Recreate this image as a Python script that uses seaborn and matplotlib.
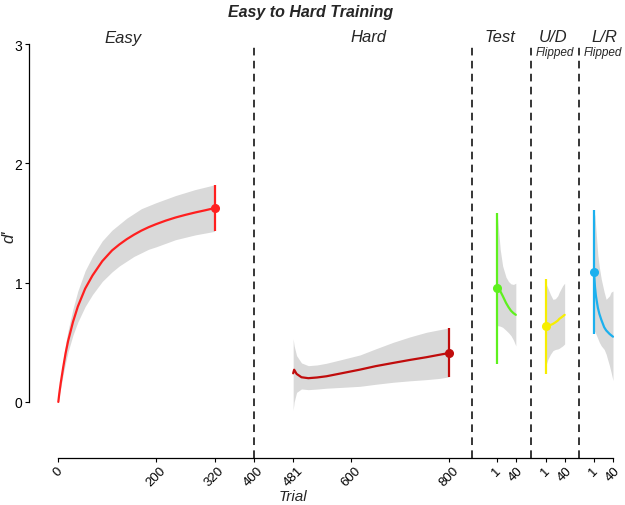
import numpy as np
import pandas as pd
import seaborn as sns
import matplotlib.pyplot as plt

# ---- data ----
# Easy training (trial, d', lower, upper)
easy_trial = [0, 2, 5, 10, 15, 20, 30, 40, 55, 70, 90, 110, 125, 140, 155, 170, 185, 200,
              220, 240, 260, 280, 300, 320]
easy_d = [0.0, 0.07, 0.16, 0.29, 0.41, 0.51, 0.67, 0.80, 0.95, 1.06, 1.18, 1.27, 1.32, 1.364,
          1.402, 1.436, 1.465, 1.49, 1.52, 1.546, 1.568, 1.588, 1.606, 1.625]
easy_lo = [0.0, 0.05, 0.12, 0.23, 0.33, 0.42, 0.56, 0.67, 0.80, 0.90, 1.01, 1.09, 1.14, 1.18,
           1.22, 1.25, 1.28, 1.30, 1.33, 1.36, 1.38, 1.40, 1.415, 1.43]
easy_hi = [0.0, 0.09, 0.20, 0.35, 0.49, 0.60, 0.78, 0.93, 1.10, 1.22, 1.35, 1.44, 1.49, 1.54,
           1.58, 1.62, 1.645, 1.67, 1.70, 1.73, 1.755, 1.78, 1.80, 1.82]

# Hard training
hard_trial = [481, 483, 488, 498, 512, 530, 549, 580, 618, 650, 686, 720, 754, 780, 800]
hard_d = [0.24, 0.27, 0.235, 0.207, 0.199, 0.205, 0.215, 0.24, 0.271, 0.30, 0.327, 0.352,
          0.375, 0.395, 0.41]
hard_lo = [-0.07, 0.0, 0.08, 0.109, 0.103, 0.108, 0.115, 0.122, 0.131, 0.148, 0.165, 0.177,
           0.187, 0.197, 0.21]
hard_hi = [0.53, 0.47, 0.388, 0.327, 0.304, 0.31, 0.324, 0.355, 0.394, 0.445, 0.50, 0.545,
           0.584, 0.605, 0.62]

# Test
test_trial = [1, 3, 8, 13, 20, 25, 30, 35, 40]
test_d = [0.953, 0.96, 0.93, 0.89, 0.83, 0.795, 0.765, 0.745, 0.73]
test_lo = [0.62, 0.64, 0.635, 0.626, 0.60, 0.58, 0.556, 0.52, 0.47]
test_hi = [1.58, 1.53, 1.28, 1.14, 1.045, 1.01, 0.99, 0.985, 0.995]

# U/D flipped
ud_trial = [1, 6, 11, 16, 21, 26, 29, 36, 40]
ud_d = [0.634, 0.636, 0.645, 0.654, 0.667, 0.682, 0.696, 0.717, 0.73]
ud_lo = [0.30, 0.36, 0.40, 0.43, 0.44, 0.444, 0.45, 0.47, 0.486]
ud_hi = [1.00, 0.95, 0.90, 0.86, 0.865, 0.89, 0.92, 0.975, 0.995]

# L/R flipped
lr_trial = [1, 3, 5, 9, 12, 16, 22, 26, 33, 36, 40]
lr_d = [1.092, 0.97, 0.89, 0.79, 0.74, 0.69, 0.626, 0.60, 0.57, 0.56, 0.547]
lr_lo = [0.59, 0.59, 0.57, 0.53, 0.50, 0.47, 0.44, 0.40, 0.30, 0.25, 0.18]
lr_hi = [1.60, 1.56, 1.45, 1.23, 1.13, 1.03, 0.92, 0.86, 0.89, 0.92, 0.93]

# end-of-block estimate with interval (d', lower, upper)
easy_end = (1.63, 1.43, 1.82)
hard_end = (0.41, 0.21, 0.62)
test_start = (0.953, 0.318, 1.584)
ud_start = (0.634, 0.235, 1.03)
lr_start = (1.092, 0.57, 1.61)

tick_labels = ["0", "200", "320", "400", "481", "600", "800", "1", "40", "1", "40", "1", "40"]

# layout of the concatenated trial axis
test_off, ud_off, lr_off = 897, 997, 1096
dividers = [400, 848, 967.5, 1067]

colors = {"easy": "#FF1F1F", "hard": "#C00C0C", "test": "#5EF01E",
          "ud": "#F7EE00", "lr": "#1CB0EE"}
band_col = "#D9D9D9"

sns.set_theme(style="ticks")
plt.rcParams["font.family"] = ["Liberation Sans", "DejaVu Sans"]

fig = plt.figure(figsize=(6.25, 5.06), dpi=100)
ax = fig.add_axes([0.0469, 0.0929, 0.937, 0.818])

segments = [
    ("easy", 0, easy_trial, easy_d, easy_lo, easy_hi, easy_end, -1),
    ("hard", 0, hard_trial, hard_d, hard_lo, hard_hi, hard_end, -1),
    ("test", test_off, test_trial, test_d, test_lo, test_hi, test_start, 0),
    ("ud", ud_off, ud_trial, ud_d, ud_lo, ud_hi, ud_start, 0),
    ("lr", lr_off, lr_trial, lr_d, lr_lo, lr_hi, lr_start, 0),
]

for name, off, tr, d, lo, hi, est, idx in segments:
    x = np.array(tr) + off
    df = pd.DataFrame({"x": x, "d": d})
    ax.fill_between(x, lo, hi, color=band_col, lw=0, zorder=1)
    sns.lineplot(data=df, x="x", y="d", color=colors[name], lw=1.6, ax=ax, zorder=3)
    ax.vlines(x[idx], est[1], est[2], color=colors[name], lw=1.6, zorder=4)
    ax.plot(x[idx], est[0], "o", color=colors[name], ms=5.5, zorder=5)

for xv in dividers:
    ax.axvline(xv, color="black", lw=1.1, ls=(0, (5, 3.5)), zorder=2)

tick_pos = [0, 200, 320, 400, 481, 600, 800,
            test_off + 1, test_off + 40, ud_off + 1, ud_off + 40, lr_off + 1, lr_off + 40]
ax.set_xticks(tick_pos)
ax.set_xticklabels(tick_labels, rotation=45, ha="center")
ax.set_yticks([0, 1, 2, 3])
ax.set_xlim(-59.4, 1140)
ax.set_ylim(-0.47, 3.0)
ax.spines["left"].set_bounds(0, 3)
ax.spines["bottom"].set_bounds(0, lr_off + 40)
for s in ["top", "right"]:
    ax.spines[s].set_visible(False)
for s in ["left", "bottom"]:
    ax.spines[s].set_linewidth(0.9)
    ax.spines[s].set_color("black")
ax.tick_params(length=3, width=0.8, labelsize=10, colors="black", pad=2)
ax.tick_params(axis="x", labelsize=9.5, pad=1.5)
ax.set_xlabel("")
ax.set_ylabel("")

fig.text(293 / 625, 1 - 497 / 506, "Trial", ha="center", va="center",
         fontsize=11, style="italic")
fig.text(9 / 625, 1 - 237 / 506, "d'", rotation=90, ha="center", va="center",
         fontsize=12, style="italic")
fig.text(311 / 625, 1 - 12 / 506, "Easy to Hard Training", ha="center", va="center",
         fontsize=11.5, fontweight="bold", style="italic")
for label, px in [("Easy", 123), ("Hard", 368), ("Test", 500), ("U/D", 553), ("L/R", 604)]:
    fig.text(px / 625, 1 - 38 / 506, label, ha="center", va="center", fontsize=12, style="italic")
for px in [555, 603]:
    fig.text(px / 625, 1 - 53 / 506, "Flipped", ha="center", va="center", fontsize=8.5, style="italic")

fig.savefig("out.png", dpi=100)
